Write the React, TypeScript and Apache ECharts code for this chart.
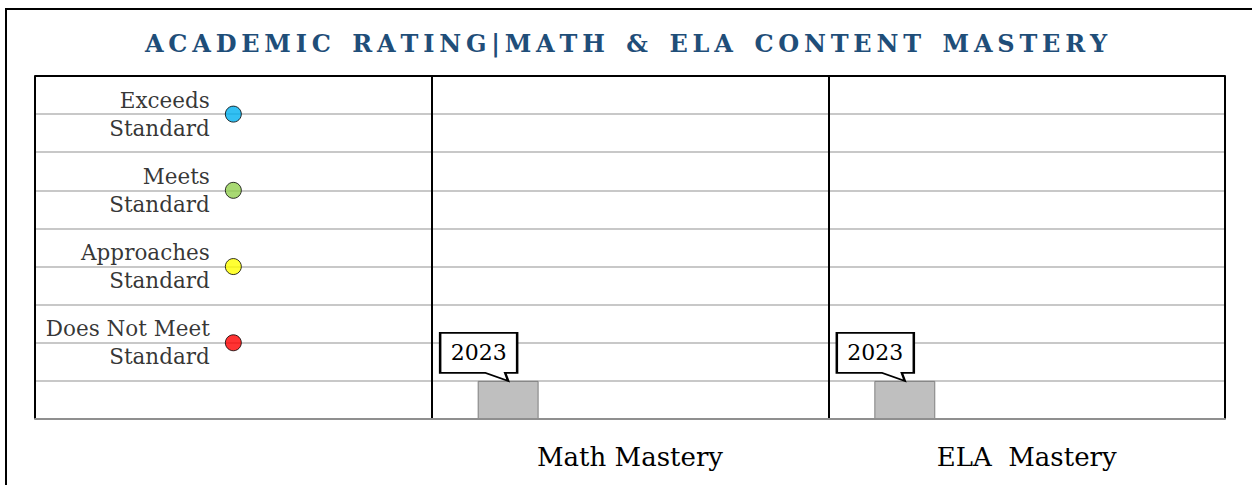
import React, { useEffect, useRef } from "react";
import * as echarts from "echarts";

const titleText = "ACADEMIC RATING|MATH & ELA CONTENT MASTERY";
const categories = ["", "Math Mastery", "ELA  Mastery"];
const years = ["2023", "2024", "2025"];
const values2023 = [null, 1, 1];
const values2024 = [null, null, null];
const values2025 = [null, null, null];
const ratingLabels = ["Exceeds\nStandard", "Meets\nStandard", "Approaches\nStandard", "Does Not Meet\nStandard"];
const ratingLevels = [8, 6, 4, 2];
const ratingColors = ["#00B0F0", "#92D050", "#FFFF00", "#FF0000"];

const SERIF = "'DejaVu Serif', serif";

function spaced(t: string) {
  return t
    .split(" ")
    .map((w) => w.split("").join("\u2009"))
    .join("  \u2009");
}

export default function App() {
  const ref = useRef<HTMLDivElement>(null);
  useEffect(() => {
    if (!ref.current) return;
    const chart = echarts.init(ref.current, null, { renderer: "svg" });
    const barSeries = [values2023, values2024, values2025].map((vals, i) => ({
      type: "bar",
      name: years[i],
      data: vals,
      barGap: "100%",
      barCategoryGap: "23.2%",
      itemStyle: { color: "#BFBFBF", borderColor: "#7F7F7F", borderWidth: 1 },
      markPoint:
        i === 0
          ? {
              symbol: "path://M0,0 L77,0 L77,40 L65,40 L68,48 L45,40 L0,40 Z",
              symbolSize: [77, 48],
              symbolOffset: [-29.5, -24],
              itemStyle: { color: "#FFFFFF", borderColor: "#000000", borderWidth: 2 },
              label: {
                show: true,
                position: "inside",
                offset: [0, -4],
                formatter: () => years[0],
                color: "#000",
                fontFamily: SERIF,
                fontSize: 22,
              },
              data: categories
                .map((c, k) => ({ c, v: vals[k] }))
                .filter((d) => d.v != null)
                .map((d) => ({ coord: [d.c, d.v] })),
            }
          : undefined,
    }));
    chart.setOption({
      animation: false,
      title: {
        text: spaced(titleText),
        left: "center",
        top: 31,
        padding: 0,
        textStyle: { color: "#1F4E79", fontFamily: SERIF, fontWeight: "bold", fontSize: 24 },
      },
      graphic: [
        {
          type: "rect",
          shape: { x: 6, y: 9, width: 1300, height: 520 },
          style: { fill: "none", stroke: "#000", lineWidth: 2 },
          silent: true,
        },
      ],
      grid: { left: 35, right: 27, top: 76, bottom: 66 },
      xAxis: [
        {
          type: "category",
          data: categories,
          z: 3,
          axisLine: { lineStyle: { color: "#8F8F8F", width: 2 } },
          axisTick: { show: false },
          axisLabel: { color: "#000", fontFamily: SERIF, fontSize: 26, margin: 25, interval: 0 },
          splitLine: { show: true, interval: 0, lineStyle: { color: "#000", width: 2 } },
        },
        {
          type: "category",
          data: categories,
          position: "top",
          z: 4,
          axisLine: { lineStyle: { color: "#000", width: 2 } },
          axisTick: { show: false },
          axisLabel: { show: false },
          splitLine: { show: false },
        },
      ],
      yAxis: {
        type: "value",
        min: 0,
        max: 9,
        interval: 1,
        z: 0,
        axisLine: { show: false },
        axisTick: { show: false },
        axisLabel: { show: false },
        splitLine: { lineStyle: { color: "#C8C8C8", width: 2 } },
      },
      series: [
        ...barSeries,
        {
          type: "scatter",
          name: "Rating",
          symbolSize: 16,
          z: 5,
          data: ratingLevels.map((v, i) => ({
            name: ratingLabels[i],
            value: [0, v],
            itemStyle: { color: ratingColors[i], borderColor: "#000", borderWidth: 1 },
          })),
          label: {
            show: true,
            position: "left",
            distance: 15,
            formatter: (p: any) => p.name,
            color: "#000",
            fontFamily: SERIF,
            fontSize: 21.5,
            lineHeight: 28,
            align: "right",
          },
        },
      ],
    });
    return () => chart.dispose();
  }, []);
  return <div ref={ref} style={{ position: "absolute", left: 0, top: 0, width: 1252, height: 485 }} />;
}
